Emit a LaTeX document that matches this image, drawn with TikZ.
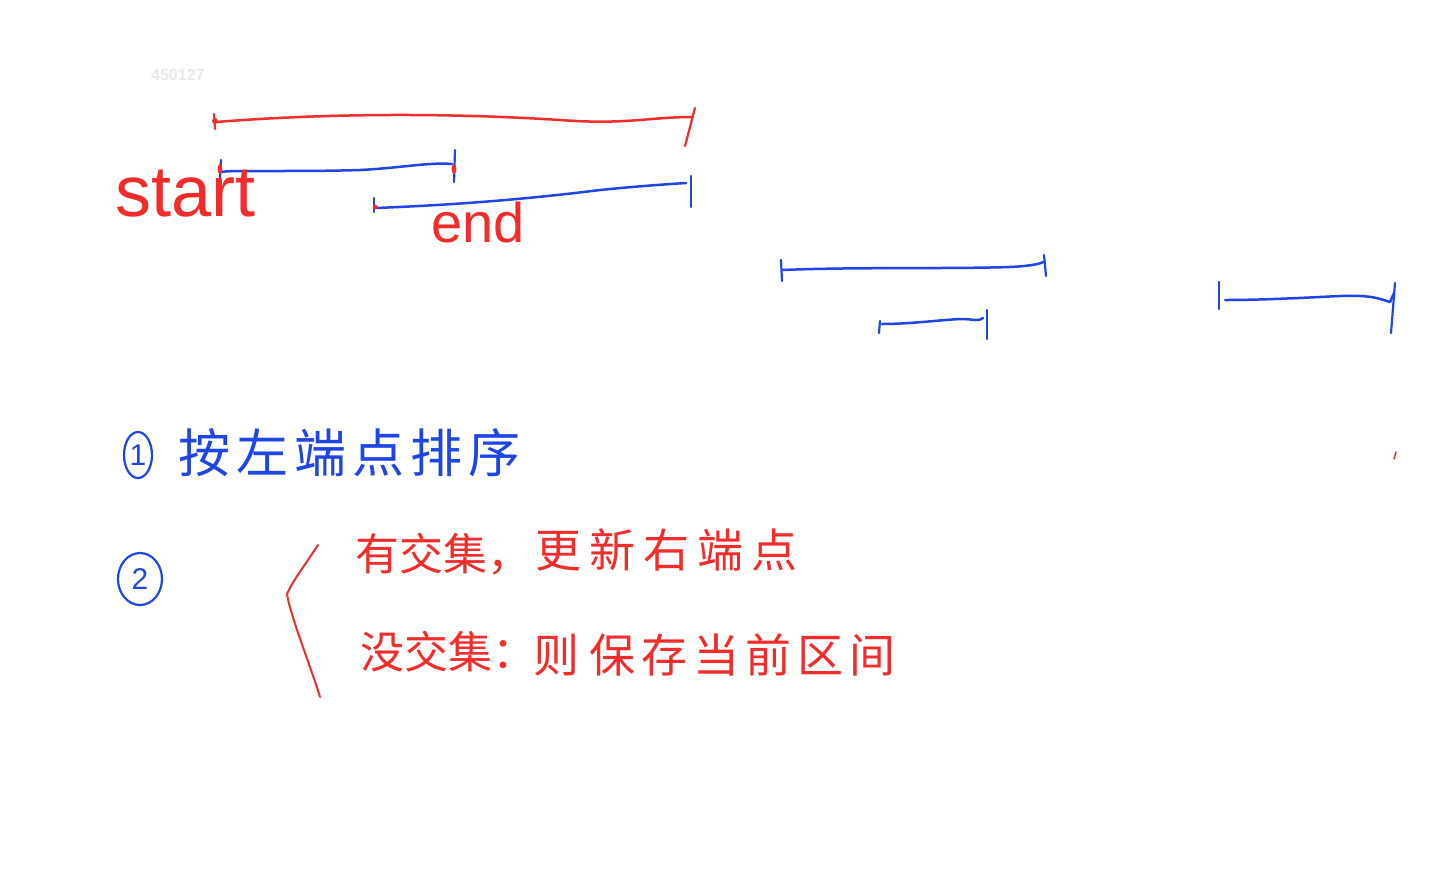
\documentclass[tikz,border=0pt]{standalone}
\usepackage{fontspec}
\setmainfont{Liberation Sans}
\newfontfamily\cjk{Noto Sans CJK SC}
\usetikzlibrary{shapes.geometric}
\definecolor{pred}{HTML}{F22B2B}
\definecolor{pblue}{HTML}{1F45E4}
\definecolor{faint}{HTML}{E8E8E8}
\tikzset{
  redink/.style={draw=pred,line width=2.5pt,line cap=round,line join=round},
  blueink/.style={draw=pblue,line width=2.5pt,line cap=round,line join=round},
  tickmark/.style={line width=2.2pt,line cap=round},
  dotmark/.style={fill=pred,draw=none},
  redtext/.style={text=pred,inner sep=0pt,anchor=base west},
  bluetext/.style={text=pblue,inner sep=0pt,anchor=base west},
  numcircle/.style={ellipse,draw=pblue,line width=2.2pt,text=pblue,inner sep=0pt,font=\fontsize{30}{30}\selectfont}
}
\begin{document}
\begin{tikzpicture}[x=1pt,y=-1pt]
\useasboundingbox[fill=white] (0,0) rectangle (1445,879);

% faint id
\node[text=faint,inner sep=0pt,anchor=base west,font=\bfseries\fontsize{16}{16}\selectfont] (id) at (151,80) {450127};

% red long interval
\coordinate (rl) at (216,122);
\coordinate (rr) at (692,117);
\draw[redink] (rl) .. controls (330,113) and (450,113) .. (560,120) .. controls (625,125) and (650,117) .. (rr);
\draw[redink,tickmark] (214,114) -- (215,129);
\draw[redink,tickmark] (695,108) -- (685,146);
\fill[dotmark] (215,121) circle (3pt);

% blue interval 1
\coordinate (b1l) at (222,172);
\coordinate (b1r) at (452,164);
\draw[blueink] (b1l) .. controls (224,170) and (300,172) .. (360,170) .. controls (400,168) and (430,162) .. (b1r);
\draw[blueink,tickmark] (221,160) -- (220,178);
\draw[blueink,tickmark] (455,150) -- (454,182);
\fill[dotmark] (220,169) ellipse (2.4pt and 5pt);
\fill[dotmark] (454,169) ellipse (2.4pt and 5pt);

% blue interval 2
\coordinate (b2l) at (376,208);
\coordinate (b2r) at (686,183);
\draw[blueink] (b2l) .. controls (450,205) and (520,200) .. (600,190) .. controls (640,186) and (670,184) .. (b2r);
\draw[blueink,tickmark] (374,198) -- (374,212);
\draw[blueink,tickmark] (691,176) -- (691,207);
\fill[dotmark] (375,207) circle (2.4pt);

% labels start / end
\node[redtext,font=\fontsize{72}{72}\selectfont] (start) at (115,216) {start};
\node[redtext,font=\fontsize{56}{56}\selectfont] (end) at (431,242) {end};

% right intervals
\coordinate (c1l) at (783,270);
\coordinate (c1r) at (1043,262);
\draw[blueink] (c1l) .. controls (850,267) and (950,269) .. (1010,267) .. controls (1030,266) and (1040,264) .. (c1r);
\draw[blueink,tickmark] (781,260) -- (782,281);
\draw[blueink,tickmark] (1044,255) -- (1046,276);

\coordinate (c2l) at (882,324);
\coordinate (c2r) at (983,318);
\draw[blueink] (c2l) .. controls (910,324) and (940,320) .. (960,319) .. controls (975,319) and (978,322) .. (c2r);
\draw[blueink,tickmark] (880,321) -- (879,333);
\draw[blueink,tickmark] (987,310) -- (987,339);

\coordinate (c3l) at (1225,300);
\coordinate (c3r) at (1390,302);
\draw[blueink] (c3l) .. controls (1260,300) and (1300,298) .. (1340,296) .. controls (1370,295) and (1378,298) .. (c3r) -- (1394,293);
\draw[blueink,tickmark] (1219,282) -- (1219,309);
\draw[blueink,tickmark] (1395,283) -- (1391,333);

% stray mark
\draw[redink,line width=1.5pt] (1396,452) -- (1394,459);

% step 1
\node[numcircle,minimum width=28pt,minimum height=46pt] (n1) at (138,455) {1};
\node[bluetext,font=\cjk\fontsize{52}{52}\selectfont] (s1) at (178,472) {按\hspace{6pt}左\hspace{6pt}端\hspace{6pt}点\hspace{6pt}排\hspace{6pt}序};

% step 2
\node[numcircle,minimum width=44pt,minimum height=52pt] (n2) at (140,579) {2};

% red brace
\coordinate (brt) at (318,545);
\coordinate (brm) at (287,594);
\coordinate (brb) at (320,697);
\draw[redink,line width=2pt] (brt) .. controls (305,565) and (292,582) .. (brm) .. controls (290,615) and (312,670) .. (brb);

% lines of text
\node[redtext,font=\cjk\fontsize{44}{44}\selectfont] (r1a) at (355,570) {有交集，};
\node[redtext,font=\cjk\fontsize{46}{46}\selectfont] (r1b) at (535,567) {更\hspace{8pt}新\hspace{8pt}右\hspace{8pt}端\hspace{8pt}点};
\node[redtext,font=\cjk\fontsize{44}{44}\selectfont] (r2a) at (360,668) {没交集：};
\node[redtext,font=\cjk\fontsize{46}{46}\selectfont] (r2b) at (533,672) {则\hspace{10pt}保\hspace{6pt}存\hspace{6pt}当\hspace{6pt}前\hspace{6pt}区\hspace{6pt}间};

\end{tikzpicture}
\end{document}
